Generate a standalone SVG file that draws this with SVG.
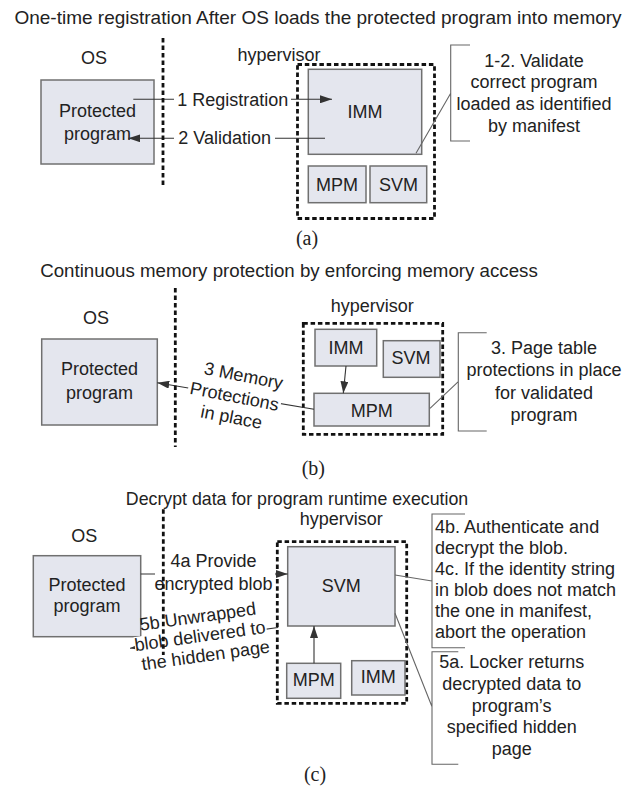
<svg xmlns="http://www.w3.org/2000/svg" width="639" height="796" viewBox="0 0 639 796">
<style>
text{font-family:"Liberation Sans",Arial,sans-serif;font-size:18px;fill:#222}
.title{font-size:18.7px}
.cap{font-family:"Liberation Serif","Times New Roman",serif;font-size:20px;text-anchor:middle}
.m{text-anchor:middle}
.box{fill:#e4e6ee;stroke:#707070;stroke-width:1.5}
.hv{fill:none;stroke:#111;stroke-width:2.8;stroke-dasharray:4.5 2.8}
.sep{fill:none;stroke:#111;stroke-width:2.8;stroke-dasharray:4.5 3}
.con{fill:none;stroke:#333;stroke-width:1.1}
.arr{marker-end:url(#ah)}
.call{fill:none;stroke:#666;stroke-width:1.1}
.bg{fill:#fff}
</style>
<defs>
<marker id="ah" markerUnits="userSpaceOnUse" markerWidth="12" markerHeight="8" refX="12" refY="4" orient="auto">
<path d="M0,0 L12,4 L0,8 z" fill="#333"/>
</marker>
</defs>
<rect width="639" height="796" fill="#fff"/>

<!-- ===== (a) ===== -->
<text class="title m" style="font-size:19px" x="318" y="24">One-time registration After OS loads the protected program into memory</text>
<text class="m" x="94" y="64">OS</text>
<text class="m" x="279" y="61">hypervisor</text>
<g id="a-hypervisor"><rect class="hv" x="297.5" y="64.5" width="137" height="154"/></g>
<g id="a-protected"><rect class="box" x="41" y="80" width="113" height="84"/>
<text class="m" x="97.5" y="117">Protected</text><text class="m" x="97.5" y="140">program</text></g>
<g id="a-imm"><rect class="box" x="308.3" y="69.3" width="113.4" height="85"/><text class="m" x="365" y="118">IMM</text></g>
<g id="a-mpm"><rect class="box" x="308.3" y="166" width="57.7" height="36.7"/><text class="m" x="337" y="191">MPM</text></g>
<g id="a-svm"><rect class="box" x="370" y="166" width="56.7" height="36.7"/><text class="m" x="398.5" y="191">SVM</text></g>
<g id="a-note"><path class="call" d="M470,45 H450.7 V141 H470 M450.7,93.3 L416,153.3"/>
<text class="m" x="534" y="66.7">1-2. Validate</text>
<text class="m" x="534" y="88.3">correct program</text>
<text class="m" x="534" y="110">loaded as identified</text>
<text class="m" x="534" y="131.5">by manifest</text></g>
<g id="a-connectors">
<line class="con arr" x1="133.3" y1="99.3" x2="332" y2="99.3"/>
<rect class="bg" x="174" y="90" width="117" height="18"/>
<text class="m" x="232.7" y="105.5">1 Registration</text>
<line class="con arr" x1="325" y1="138.3" x2="128.3" y2="138.3"/>
<rect class="bg" x="174" y="129" width="101" height="18"/>
<text class="m" x="224.7" y="144">2 Validation</text>
</g>
<line class="sep" x1="163" y1="38" x2="163" y2="186"/>
<text class="cap" x="307" y="244.5">(a)</text>

<!-- ===== (b) ===== -->
<text class="title m" x="289" y="277">Continuous memory protection by enforcing memory access</text>
<text class="m" x="96" y="323.5">OS</text>
<text class="m" x="372.3" y="311.7">hypervisor</text>
<g id="b-hypervisor"><rect class="hv" x="303.3" y="323.3" width="139.4" height="111"/></g>
<g id="b-protected"><rect class="box" x="41.7" y="339" width="115.6" height="86"/>
<text class="m" x="99.5" y="375">Protected</text><text class="m" x="99.5" y="398.5">program</text></g>
<g id="b-imm"><rect class="box" x="315" y="329.3" width="61.7" height="36.7"/><text class="m" x="346" y="353.5">IMM</text></g>
<g id="b-svm"><rect class="box" x="383.3" y="340.7" width="56.7" height="36.6"/><text class="m" x="411" y="364">SVM</text></g>
<g id="b-mpm"><rect class="box" x="314" y="393.3" width="115.3" height="32.7"/><text class="m" x="371.7" y="416.7">MPM</text></g>
<g id="b-note"><path class="call" d="M486.7,332.7 H458.3 V431 H486.7 M458.3,381.7 L430,408.3"/>
<text class="m" x="544" y="353.5">3. Page table</text>
<text class="m" x="544" y="376">protections in place</text>
<text class="m" x="544" y="398.5">for validated</text>
<text class="m" x="544" y="420.5">program</text></g>
<g id="b-connectors">
<line class="con arr" x1="346" y1="366" x2="343.3" y2="393.3"/>
<line class="con arr" x1="314" y1="409.3" x2="157.3" y2="382.7"/>
<g transform="translate(233.3,402.3) rotate(11)">
<rect class="bg" x="-47" y="-14" width="94" height="19"/>
<text class="m" x="5" y="-22">3 Memory</text>
<text class="m" x="0" y="0">Protections</text>
<text class="m" x="1" y="21">in place</text>
</g>
</g>
<line class="sep" x1="175.3" y1="288" x2="175.3" y2="447"/>
<text class="cap" x="313.3" y="475">(b)</text>

<!-- ===== (c) ===== -->
<text class="m" style="font-size:17.75px" x="297" y="505">Decrypt data for program runtime execution</text>
<text class="m" x="341.3" y="525">hypervisor</text>
<text class="m" x="84.3" y="541.5">OS</text>
<g id="c-hypervisor"><rect class="hv" x="277.3" y="541.7" width="129.4" height="161.6"/></g>
<g id="c-protected"><rect class="box" x="33.3" y="555.7" width="107.4" height="81"/>
<text class="m" x="87" y="590.7">Protected</text><text class="m" x="87" y="611.7">program</text></g>
<g id="c-svm"><rect class="box" x="287.7" y="546.7" width="107.3" height="79.3"/><text class="m" x="341.3" y="591.7">SVM</text></g>
<g id="c-mpm"><rect class="box" x="286.7" y="663.3" width="54" height="35"/><text class="m" x="313.7" y="686">MPM</text></g>
<g id="c-imm"><rect class="box" x="351.7" y="660.7" width="53.3" height="34.3"/><text class="m" x="378.3" y="682.7">IMM</text></g>
<g id="c-note1"><path class="call" d="M465,514 H432 V647.7 H465 M395,575 L432,581"/>
<text x="435" y="533.3">4b. Authenticate and</text>
<text x="435" y="554.3">decrypt the blob.</text>
<text x="435" y="575.3">4c. If the identity string</text>
<text x="435" y="596.3">in blob does not match</text>
<text x="435" y="617.3">the one in manifest,</text>
<text x="435" y="638.3">abort the operation</text></g>
<g id="c-note2"><path class="call" d="M458.3,651.7 H432 V764.3 H458.3 M395,613.3 L432,706.7"/>
<text class="m" x="511.7" y="668.3">5a. Locker returns</text>
<text class="m" x="511.7" y="690">decrypted data to</text>
<text class="m" x="511.7" y="711.7">program’s</text>
<text class="m" x="511.7" y="733.3">specified hidden</text>
<text class="m" x="511.7" y="755">page</text></g>
<g id="c-connectors">
<line class="con arr" x1="314" y1="663.3" x2="314" y2="626"/>
<line class="con arr" x1="140.7" y1="574" x2="287.7" y2="574"/>
<rect class="bg" x="155" y="569" width="120" height="10"/>
<text class="m" x="213.5" y="566.7">4a Provide</text>
<text class="m" x="213.5" y="590">encrypted blob</text>
<line class="con arr" x1="278" y1="627.5" x2="130" y2="648.3"/>
<g transform="translate(200.8,642) rotate(-8)">
<rect class="bg" x="-66" y="-14" width="133" height="18"/>
<text class="m" x="0.5" y="-19.5">5b Unwrapped</text>
<text class="m" x="0" y="0">blob delivered to</text>
<text class="m" x="3" y="20">the hidden page</text>
</g>
</g>
<line class="sep" x1="163.3" y1="509.3" x2="163.3" y2="655"/>
<text class="cap" x="315" y="781">(c)</text>
</svg>
